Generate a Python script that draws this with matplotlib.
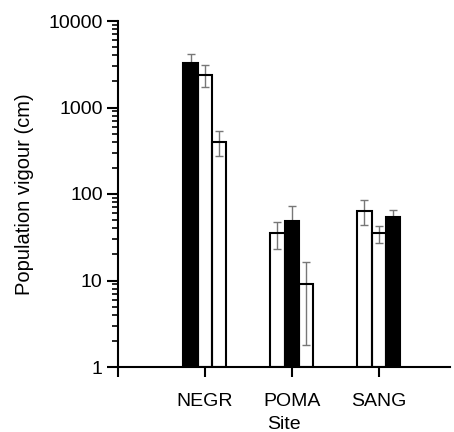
import matplotlib
matplotlib.use("Agg")
import matplotlib.pyplot as plt
import numpy as np
from matplotlib.ticker import LogLocator, NullFormatter

sites = ["NEGR", "POMA", "SANG"]
# three bars per site, left to right
values = [[3300, 2400, 400],
          [35, 49, 9.0],
          [64, 35, 54]]
errors = [[850, 680, 128],
          [12, 23, 7.2],
          [20.5, 7.7, 11.5]]
fills = [["black", "none", "none"],
         ["none", "black", "none"],
         ["none", "none", "black"]]
ytick_labels = ["1", "10", "100", "1000", "10000"]

plt.rcParams['font.family'] = ['Liberation Sans', 'DejaVu Sans']

fig = plt.figure(figsize=(4.54, 4.32), dpi=100)
ax = fig.add_axes([118/454, (432-367)/432, (450-118)/454, (367-21)/432])

width = 0.165
for i, site in enumerate(sites):
    for j in range(3):
        x = (i + 1) + (j - 1) * width
        ax.errorbar(x, values[i][j], yerr=errors[i][j], fmt="none",
                    ecolor="#777777", elinewidth=1.0, capsize=3, capthick=1.0, zorder=1)
        ax.bar(x, values[i][j] - 1, width=width, bottom=1, facecolor=fills[i][j],
               edgecolor="black", linewidth=1.5, zorder=2)

ax.set_yscale("log")
ax.set_ylim(1, 10000)
ax.set_xlim(0, 3.82)
ax.set_yticks([1, 10, 100, 1000, 10000])
ax.set_yticklabels(ytick_labels)
ax.yaxis.set_minor_locator(LogLocator(base=10, subs=np.arange(2, 10)))
ax.yaxis.set_minor_formatter(NullFormatter())
ax.set_xticks([0, 1, 2, 3])
ax.set_xticklabels(["", "NEGR", "POMA", "SANG"])

for s in ["top", "right"]:
    ax.spines[s].set_visible(False)
for s in ["left", "bottom"]:
    ax.spines[s].set_linewidth(1.5)

ax.tick_params(axis="y", which="major", length=8, width=1.5, labelsize=14, pad=3)
ax.tick_params(axis="y", which="minor", length=4, width=1.2)
ax.tick_params(axis="x", which="major", length=7, width=1.5, labelsize=14, pad=12)

ax.set_ylabel("Population vigour (cm)", fontsize=14.5, labelpad=10)
ax.set_xlabel("Site", fontsize=14, labelpad=4)

fig.savefig("out.png", dpi=100)
